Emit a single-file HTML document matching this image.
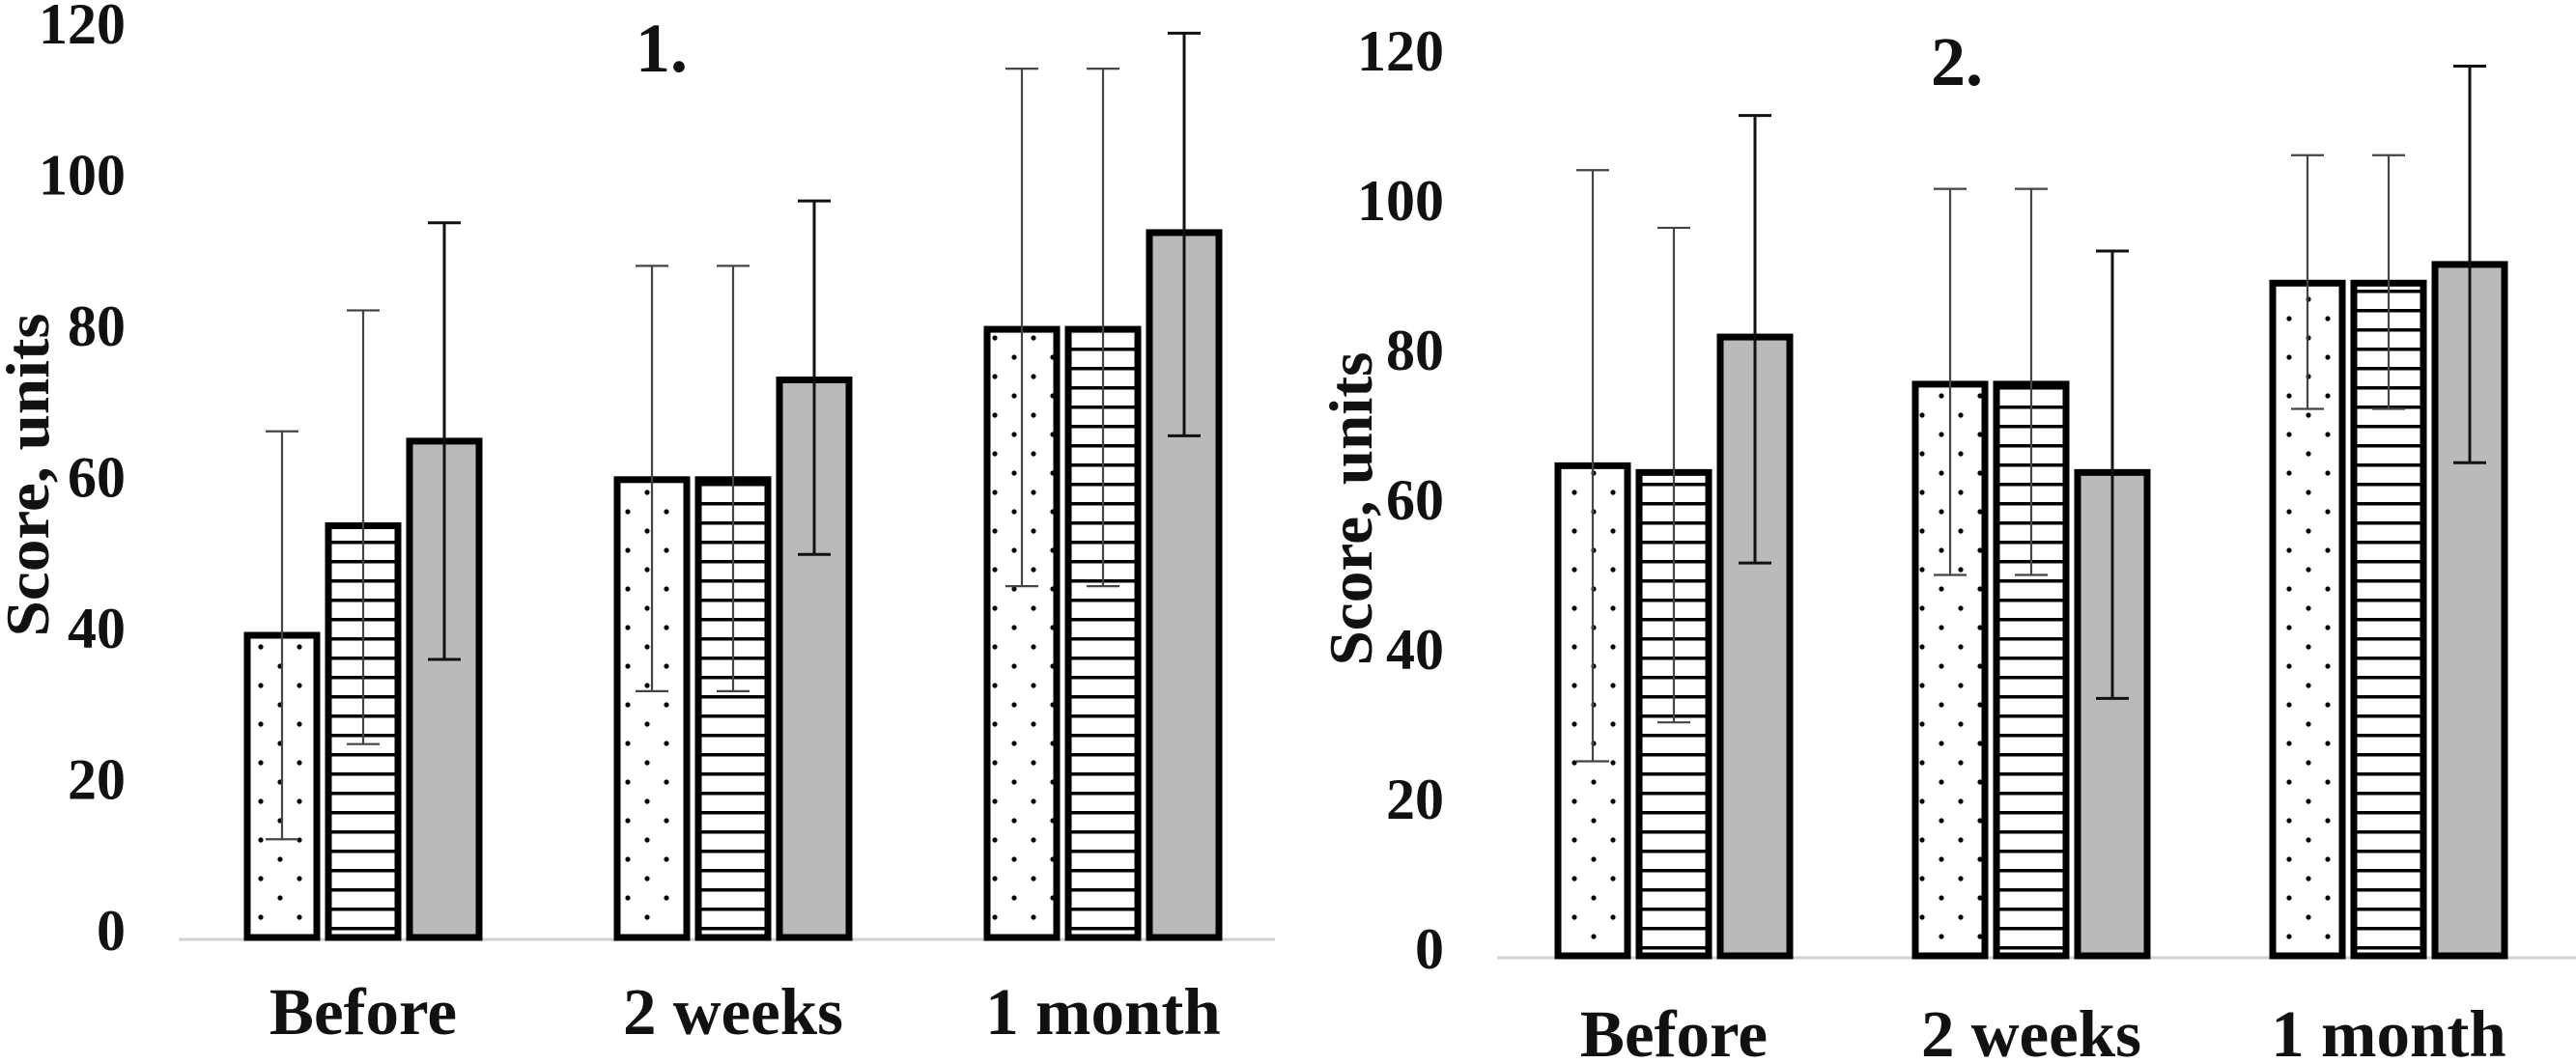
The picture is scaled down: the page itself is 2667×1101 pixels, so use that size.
<!DOCTYPE html>
<html><head><meta charset="utf-8"><style>
html,body{margin:0;padding:0;background:#fff;}
svg{display:block;}
text{font-family:"Liberation Serif",serif;font-weight:bold;fill:#111;}
</style></head>
<body>
<svg id="chart" width="2667" height="1101" viewBox="0 0 2667 1101" xmlns="http://www.w3.org/2000/svg">
<defs>
<pattern id="dots" patternUnits="userSpaceOnUse" width="40" height="40">
<circle cx="10" cy="10" r="2.6" fill="#000"/><circle cx="30" cy="30" r="2.6" fill="#000"/>
</pattern>
<pattern id="hatch" patternUnits="userSpaceOnUse" width="20" height="20">
<rect x="0" y="0" width="20" height="3.5" fill="#000"/>
</pattern>
</defs>
</svg>
<script>
const categories = ["Before", "2 weeks", "1 month"];
const yTicks = [0, 20, 40, 60, 80, 100, 120];
// chart 1
const c1Dotted = [40, 60.6, 80.5];
const c1Hatched = [54.5, 60.6, 80.5];
const c1Gray = [65.7, 73.8, 93.3];
const c1DottedHi = [67, 88.9, 115];
const c1DottedLo = [13, 32.6, 46.5];
const c1HatchedHi = [83, 88.9, 115];
const c1HatchedLo = [25.6, 32.6, 46.5];
const c1GrayHi = [94.6, 97.5, 119.7];
const c1GrayLo = [36.8, 50.7, 66.4];
// chart 2
const c2Dotted = [65.5, 76.4, 89.9];
const c2Hatched = [64.6, 76.4, 89.9];
const c2Gray = [82.7, 64.6, 92.4];
const c2DottedHi = [105, 102.5, 107];
const c2DottedLo = [26, 50.9, 73.1];
const c2HatchedHi = [97.3, 102.5, 107];
const c2HatchedLo = [31.2, 50.9, 73.1];
const c2GrayHi = [112.3, 94.2, 118.9];
const c2GrayLo = [52.5, 34.4, 65.9];

const NS = "http://www.w3.org/2000/svg";
const svg = document.getElementById('chart');
function mk(tag, attrs, parent){
  const e = document.createElementNS(NS, tag);
  for (const k in attrs) e.setAttribute(k, attrs[k]);
  (parent||svg).appendChild(e);
  return e;
}

function drawChart(cfg){
  const g = mk('g', {});
  
  
  const y = v => cfg.base - v * (cfg.base - cfg.top) / 120;
  const gx = i => cfg.c0 + i * cfg.gap;
  const ax = mk('line', {x1: cfg.ax0, x2: cfg.ax1, y1: cfg.base+2, y2: cfg.base+2, stroke: '#d0d0d0', 'stroke-width': 3}, g);
  
  
  yTicks.forEach(t => {
    const tx = mk('text', {x: cfg.tickX, y: y(t) + 13, 'text-anchor': 'end', 'font-size': 60}, g);
    tx.textContent = t;
    
    
  });
  categories.forEach((c, i) => {
    const tx = mk('text', {x: gx(i), y: cfg.catY, 'text-anchor': 'middle', 'font-size': 69}, g);
    tx.textContent = c;
    
    
  });
  const yt = mk('text', {x: 0, y: 0, 'text-anchor': 'middle', 'font-size': 64, transform: `translate(${cfg.ytX},${cfg.ytY}) rotate(-90)`, textLength: cfg.ytLen, lengthAdjust: 'spacingAndGlyphs'}, g);
  yt.textContent = 'Score, units';
  
  
  const tt = mk('text', {x: cfg.titleX, y: cfg.titleY, 'text-anchor': 'middle', 'font-size': 72}, g);
  tt.textContent = cfg.title;
  
  

  const series = [
    {vals: cfg.d, hi: cfg.dh, lo: cfg.dl, fill: 'url(#dots)', bg: '#fff', n: 'dotted'},
    {vals: cfg.h, hi: cfg.hh, lo: cfg.hl, fill: 'url(#hatch)', bg: '#fff', n: 'hatched'},
    {vals: cfg.g, hi: cfg.gh, lo: cfg.gl, fill: '#bababa', bg: '#bababa', n: 'gray'}
  ];
  const bw = 72, pitch = 84;
  series.forEach((s, si) => {
    s.vals.forEach((v, i) => {
      const cx = gx(i) + (si - 1) * pitch;
      const x0 = cx - bw/2, yt0 = y(v);
      const bg = mk('rect', {x: x0, y: yt0, width: bw, height: cfg.base - yt0, fill: s.bg}, g);
      
      
      const r = mk('rect', {x: x0, y: yt0, width: bw, height: cfg.base - yt0, fill: s.fill, stroke: '#000', 'stroke-width': 7}, g);
      
      
      const eh = y(s.hi[i]), el = y(s.lo[i]);
      const col = si === 2 ? '#111' : '#444';
      const sw = si === 2 ? 3 : 2.2;
      const e = mk('path', {d: `M${cx},${eh}V${el}M${cx-17},${eh}H${cx+17}M${cx-17},${el}H${cx+17}`, stroke: col, 'stroke-width': sw, fill: 'none'}, g);
      
      
    });
  });
}

drawChart({name: 'panel-1', base: 971, top: 32, c0: 376, gap: 383, ax0: 185, ax1: 1320, tickX: 130,
  catY: 1071, ytX: 50, ytY: 492, ytLen: 335, titleX: 685, titleY: 74, title: '1.',
  d: c1Dotted, h: c1Hatched, g: c1Gray, dh: c1DottedHi, dl: c1DottedLo, hh: c1HatchedHi, hl: c1HatchedLo, gh: c1GrayHi, gl: c1GrayLo});
drawChart({name: 'panel-2', base: 990, top: 60, c0: 1733, gap: 370, ax0: 1550, ax1: 2667, tickX: 1495,
  catY: 1094, ytX: 1420, ytY: 527, ytLen: 325, titleX: 2026, titleY: 88, title: '2.',
  d: c2Dotted, h: c2Hatched, g: c2Gray, dh: c2DottedHi, dl: c2DottedLo, hh: c2HatchedHi, hl: c2HatchedLo, gh: c2GrayHi, gl: c2GrayLo});
</script>
</body></html>
